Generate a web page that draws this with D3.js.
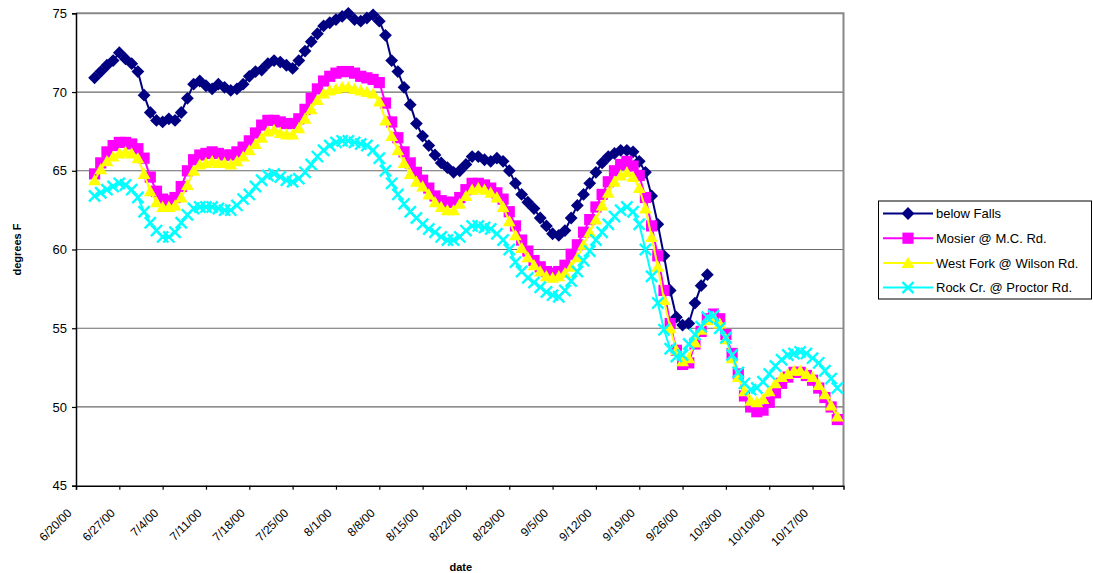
<!DOCTYPE html>
<html><head><meta charset="utf-8">
<script src="https://cdn.jsdelivr.net/npm/d3@7"></script>
<style>body{margin:0;background:#fff}svg{display:block;font-family:"Liberation Sans",Arial,sans-serif}</style>
</head><body><svg id="c" width="1093" height="573"></svg>
<script>
// ---- data ----
const seriesNames = ["below Falls", "Mosier @ M.C. Rd.", "West Fork @ Wilson Rd.", "Rock Cr. @ Proctor Rd."];
const firstDate = "6/23/00";           // first daily reading of every series
const axisStart = "6/20/00";
const axisEnd = "10/22/00";
const tickLabels = ["6/20/00","6/27/00","7/4/00","7/11/00","7/18/00","7/25/00","8/1/00","8/8/00","8/15/00",
  "8/22/00","8/29/00","9/5/00","9/12/00","9/19/00","9/26/00","10/3/00","10/10/00","10/17/00"];
const yTicks = [45, 50, 55, 60, 65, 70, 75];

const belowFalls = [70.9,71.3,71.7,72.0,72.5,72.1,71.8,71.3,69.8,68.7,68.2,68.1,68.3,68.2,68.7,69.6,70.5,70.7,
  70.4,70.2,70.5,70.3,70.1,70.2,70.5,71.0,71.3,71.4,71.8,72.0,71.9,71.7,71.5,72.0,72.6,73.2,73.7,74.2,74.4,74.6,
  74.8,75.0,74.6,74.5,74.7,74.9,74.5,73.6,72.0,71.3,70.3,69.2,68.0,67.2,66.6,66.0,65.5,65.2,64.9,65.0,65.4,65.9,
  65.9,65.7,65.6,65.8,65.6,65.0,64.2,63.5,63.0,62.6,62.0,61.5,61.0,60.9,61.2,62.0,62.8,63.5,64.2,64.9,65.5,65.9,
  66.1,66.3,66.3,66.2,65.6,64.9,63.4,61.6,59.6,57.4,55.7,55.2,55.3,56.6,57.7,58.4];
const mosier = [64.8,65.5,66.2,66.6,66.8,66.8,66.7,66.4,65.8,64.6,63.7,63.2,63.1,63.3,64.0,65.0,65.7,66.0,66.1,
  66.2,66.1,66.0,66.0,66.2,66.5,66.9,67.4,67.9,68.2,68.2,68.1,68.0,68.0,68.3,68.9,69.6,70.2,70.7,71.0,71.2,71.3,
  71.3,71.2,71.0,70.9,70.8,70.6,69.3,68.1,67.1,66.2,65.5,64.9,64.4,63.9,63.4,63.1,63.0,63.0,63.3,63.8,64.2,64.2,
  64.1,63.9,63.6,63.2,62.4,61.5,60.6,59.9,59.3,58.9,58.6,58.5,58.6,59.0,59.7,60.3,61.1,61.9,62.7,63.5,64.3,65.0,
  65.4,65.6,65.3,64.7,63.3,61.5,59.6,57.4,55.3,53.6,52.7,52.8,54.0,54.8,55.6,55.9,55.6,54.6,53.4,52.1,50.7,50.0,
  49.7,49.8,50.3,50.9,51.5,51.9,52.2,52.2,52.0,51.7,51.2,50.6,50.0,49.2];
const westFork = [64.4,65.1,65.6,65.9,66.1,66.2,66.1,65.8,64.8,63.7,63.0,62.7,62.7,62.8,63.3,64.1,65.0,65.4,65.5,
  65.6,65.5,65.5,65.4,65.6,65.9,66.3,66.7,67.1,67.5,67.6,67.4,67.3,67.3,67.7,68.3,68.9,69.5,69.9,70.1,70.2,70.3,
  70.3,70.2,70.1,70.0,69.9,69.4,68.2,67.2,66.3,65.5,64.8,64.3,64.0,63.5,63.0,62.7,62.5,62.5,62.9,63.4,63.8,63.9,
  63.8,63.6,63.3,62.7,61.8,60.9,60.1,59.5,59.0,58.6,58.3,58.2,58.3,58.5,58.9,59.5,60.3,61.1,61.9,62.8,63.6,64.3,
  64.7,64.9,64.6,63.9,62.6,60.8,58.9,56.8,55.0,53.6,52.9,53.1,54.1,54.9,55.5,55.7,55.3,54.3,53.1,51.9,51.0,50.4,
  50.3,50.5,51.0,51.5,51.9,52.1,52.3,52.3,52.1,51.9,51.4,50.8,50.1,49.4];
const rockCr = [63.4,63.6,63.8,64.0,64.2,64.1,63.8,63.3,62.4,61.7,61.2,60.8,60.8,61.1,61.7,62.2,62.6,62.7,62.7,
  62.7,62.6,62.5,62.5,62.8,63.2,63.5,64.0,64.4,64.7,64.8,64.6,64.4,64.3,64.5,64.9,65.4,65.9,66.3,66.6,66.8,66.9,
  66.9,66.8,66.7,66.6,66.3,65.8,65.0,64.2,63.5,62.9,62.4,62.0,61.6,61.3,61.1,60.8,60.6,60.6,60.8,61.2,61.5,61.5,
  61.4,61.3,61.0,60.6,60.0,59.2,58.6,58.2,57.9,57.6,57.3,57.1,57.0,57.4,58.0,58.6,59.3,59.9,60.6,61.1,61.6,62.1,
  62.5,62.7,62.4,61.6,60.0,58.3,56.6,54.9,53.7,53.2,53.3,54.0,54.6,55.1,55.7,55.8,55.0,54.4,53.3,52.2,51.5,51.1,
  51.2,51.6,52.1,52.6,53.0,53.3,53.4,53.5,53.4,53.1,52.8,52.3,51.8,51.2];

const seriesValues = [belowFalls, mosier, westFork, rockCr];
const seriesColors = ["#000080", "#FF00FF", "#FFFF00", "#00FFFF"];
const seriesMarkers = ["diamond", "square", "triangle", "x"];

// ---- layout ----
const L = 76, R = 843.5, T = 13.3, B = 485.7;
const parse = d3.utcParse("%m/%d/%y");
const start = parse(firstDate);
const x = d3.scaleUtc().domain([parse(axisStart), parse(axisEnd)]).range([L, R]);
const y = d3.scaleLinear().domain([45, 75]).range([B, T]);

const svg = d3.select("#c");

const markerPath = {
  diamond: "M0,-6.4L6.4,0L0,6.4L-6.4,0Z",
  square: "M-5.6,-5.6H5.6V5.6H-5.6Z",
  triangle: "M0,-6.2L6.4,5L-6.4,5Z",
  x: "M-5.6,-5.6L5.6,5.6M5.6,-5.6L-5.6,5.6"
};
function drawMarker(g, type, color) {
  const p = g.append("path").attr("d", markerPath[type]);
  if (type === "x") p.attr("fill", "none").attr("stroke", color).attr("stroke-width", 2.4);
  else p.attr("fill", color).attr("stroke", "none");
}

// gridlines
svg.append("g").selectAll("line").data(yTicks.filter(v => v > 45 && v < 75)).join("line")
  .attr("x1", L).attr("x2", R).attr("y1", d => y(d)).attr("y2", d => y(d))
  .attr("stroke", "#6a6a6a").attr("stroke-width", 1.2);
// plot border (top/right)
svg.append("path").attr("d", `M${L},${T}H${R}V${B}`).attr("fill", "none")
  .attr("stroke", "#888").attr("stroke-width", 2);

// y axis
const yAxis = svg.append("g").attr("transform", `translate(${L},0)`)
  .call(d3.axisLeft(y).tickValues(yTicks).tickSize(4).tickPadding(5).tickFormat(d3.format("d")));
yAxis.select(".domain").attr("stroke", "#000").attr("stroke-width", 1.5);
yAxis.selectAll(".tick line").attr("stroke", "#000").attr("stroke-width", 1.2);
yAxis.selectAll("text").attr("font-size", 13).attr("fill", "#000").attr("font-family", "Liberation Sans, Arial, sans-serif");

// x axis
const tickDates = tickLabels.map(parse);
const xAxis = svg.append("g").attr("transform", `translate(0,${B})`)
  .call(d3.axisBottom(x).tickValues(tickDates).tickSize(4).tickFormat((d, i) => tickLabels[i]));
xAxis.select(".domain").attr("stroke", "#000").attr("stroke-width", 1.5);
xAxis.selectAll(".tick line").attr("stroke", "#000").attr("stroke-width", 1.2);
xAxis.selectAll("text").attr("font-size", 12).attr("fill", "#000")
  .attr("font-family", "Liberation Sans, Arial, sans-serif")
  .attr("text-anchor", "end").attr("dy", 0).attr("y", 0)
  .attr("transform", "translate(-4,28) rotate(-45)");

// axis titles
svg.append("text").attr("transform", `translate(21,${(T + B) / 2}) rotate(-90)`)
  .attr("text-anchor", "middle").attr("font-size", 11).attr("font-weight", "bold").text("degrees F");
svg.append("text").attr("x", (L + R) / 2 + 1).attr("y", 571)
  .attr("text-anchor", "middle").attr("font-size", 11).attr("font-weight", "bold").text("date");

// series
seriesValues.forEach((vals, si) => {
  const pts = vals.map((v, i) => ({ d: d3.utcDay.offset(start, i), v }));
  const g = svg.append("g");
  g.append("path").datum(pts)
    .attr("d", d3.line().x(p => x(p.d)).y(p => y(p.v)))
    .attr("fill", "none").attr("stroke", seriesColors[si]).attr("stroke-width", 2);
  g.selectAll("g.m").data(pts).join("g").attr("class", "m")
    .attr("transform", p => `translate(${x(p.d)},${y(p.v)})`)
    .each(function () { drawMarker(d3.select(this), seriesMarkers[si], seriesColors[si]); });
});

// legend
const lg = svg.append("g");
lg.append("rect").attr("x", 878.5).attr("y", 201).attr("width", 213).attr("height", 98)
  .attr("fill", "#fff").attr("stroke", "#000").attr("stroke-width", 1);
seriesNames.forEach((name, i) => {
  const cy = 213.5 + i * 24.7;
  lg.append("line").attr("x1", 883).attr("x2", 933).attr("y1", cy).attr("y2", cy)
    .attr("stroke", seriesColors[i]).attr("stroke-width", 2);
  drawMarker(lg.append("g").attr("transform", `translate(908,${cy})`), seriesMarkers[i], seriesColors[i]);
  lg.append("text").attr("x", 936).attr("y", cy).attr("dy", "0.36em").attr("font-size", 13).text(name);
});
</script></body></html>
